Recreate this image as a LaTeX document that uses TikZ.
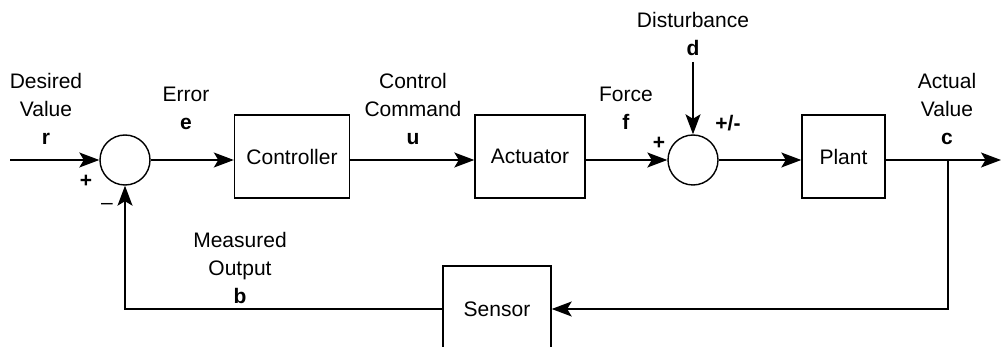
\documentclass[tikz,border=0pt]{standalone}
\usepackage{fontspec}
\setmainfont{Liberation Sans}
\usetikzlibrary{arrows.meta}
\begin{document}
\begin{tikzpicture}[x=1pt,y=-1pt,
  every node/.style={font=\fontsize{21}{28}\selectfont},
  blk/.style={draw,line width=1.4pt,minimum width=#1,minimum height=83pt,inner sep=0pt},
  blk/.default=112pt,
  sumnode/.style={draw,circle,line width=1.4pt,minimum size=50pt,inner sep=0pt},
  wire/.style={line width=1.4pt},
  sig/.style={wire,-{Stealth[length=20pt,width=15pt,inset=4.5pt]}},
  lbl/.style={align=center,inner sep=0pt},
  sgn/.style={inner sep=0pt,font=\fontsize{21}{28}\selectfont\bfseries}]
\useasboundingbox (0,0) rectangle (1001,347);

% blocks and summing junctions
\node[sumnode] (s1) at (125,160) {};
\node[blk=115pt] (ctrl) at (292,156.5) {Controller};
\node[blk=110pt] (act) at (530,156.5) {Actuator};
\node[sumnode] (s2) at (693,160) {};
\node[blk=83pt] (plant) at (843.5,156.5) {Plant};
\node[blk=108pt,minimum height=86pt] (sens) at (497,309) {Sensor};

% free ends
\coordinate (in) at (10,160);
\coordinate (out) at (1001,160);
\coordinate (dist) at (693,62);
\coordinate (tap) at (948,160);
\coordinate (tapdown) at (948,309);
\coordinate (fbcorner) at (125,309);

% forward path, kept level with the junction centres
\draw[sig] (in) -- (s1.west);
\draw[sig] (s1.east) -- (s1.east -| ctrl.west);
\draw[sig] (s1 -| ctrl.east) -- (s1 -| act.west);
\draw[sig] (s1 -| act.east) -- (s2.west);
\draw[sig] (dist) -- (s2.north);
\draw[sig] (s2.east) -- (s2.east -| plant.west);
\draw[sig] (s2 -| plant.east) -- (out);

% feedback path
\draw[sig] (tap) -- (tapdown) -- (sens.east);
\draw[sig] (sens.west) -- (fbcorner) -- (s1.south);

% signal labels
\node[lbl] at (46,109) {Desired\\Value\\\textbf{r}};
\node[lbl] at (186,108) {Error\\\textbf{e}};
\node[lbl] at (413,109) {Control\\Command\\\textbf{u}};
\node[lbl] at (626,108) {Force\\\textbf{f}};
\node[lbl] at (693,34) {Disturbance\\\textbf{d}};
\node[lbl] at (947,109) {Actual\\Value\\\textbf{c}};
\node[lbl] at (240,268) {Measured\\Output\\\textbf{b}};

% signs at the junctions
\node[sgn] at (86,181) {+};
\node[inner sep=0pt] at (107,206) {\textendash};
\node[sgn] at (659,143) {+};
\node[sgn] at (728,123) {+/-};
\end{tikzpicture}
\end{document}
